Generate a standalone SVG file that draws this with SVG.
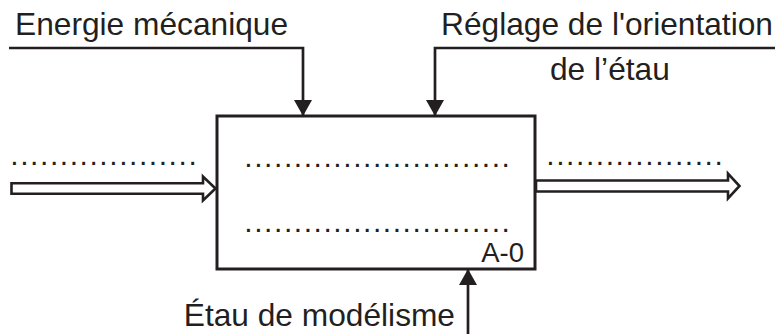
<svg xmlns="http://www.w3.org/2000/svg" width="781" height="334" viewBox="0 0 781 334">
<style>
.t{font-family:"Liberation Sans",Arial,sans-serif;font-size:31.7px;fill:#231f20}
.d{font-family:"Liberation Sans",Arial,sans-serif;font-size:30px;fill:#231f20;letter-spacing:1.56px}
.l{fill:none;stroke:#231f20;stroke-width:2.7}
.h{fill:#fff;stroke:#231f20;stroke-width:2.6;stroke-linejoin:miter}
</style>
<defs>
<marker id="ah" viewBox="0 0 16 18" refX="16" refY="9" markerWidth="16" markerHeight="18" markerUnits="userSpaceOnUse" orient="auto">
<path d="M0,0 L16,9 L0,18 Z" fill="#231f20"/>
</marker>
</defs>
<g id="box">
<rect x="217" y="116" width="318" height="153" fill="#fff" stroke="#231f20" stroke-width="3"/>
<text class="d" x="244.3" y="166.5">...........................</text>
<text class="d" x="244.3" y="231.5">...........................</text>
<text class="t" x="524" y="262" text-anchor="end" style="font-size:27.5px">A-0</text>
</g>
<g id="input">
<text class="d" x="10.3" y="164.5">...................</text>
</g>
<g id="output">
<text class="d" x="546.3" y="164.8">..................</text>
</g>
<g id="control1">
<text class="t" x="15" y="34.5">Energie mécanique</text>
</g>
<g id="control2">
<text class="t" x="441" y="35">Réglage de l'orientation</text>
<text class="t" x="550" y="80">de l’étau</text>
</g>
<g id="mechanism">
<text class="t" x="455" y="326" text-anchor="end">Étau de modélisme</text>
</g>
<g id="connectors">
<polyline class="l" points="9,48 303,48 303,116" marker-end="url(#ah)"/>
<polyline class="l" points="775,48 435,48 435,116" marker-end="url(#ah)"/>
<line class="l" x1="468" y1="334" x2="468" y2="269" marker-end="url(#ah)"/>
<polygon class="h" points="11.5,183.2 203,183.2 203,176.5 215.5,188.5 203,200.5 203,193.8 11.5,193.8"/>
<polygon class="h" points="536,180.5 728,180.5 728,173.5 739.5,186 728,198.5 728,191.5 536,191.5"/>
</g>
</svg>
